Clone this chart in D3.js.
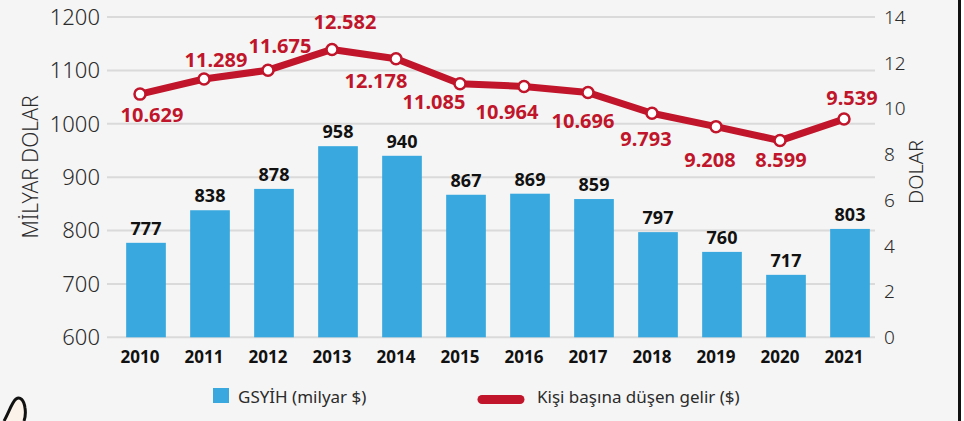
<!DOCTYPE html>
<html>
<head>
<meta charset="utf-8">
<script src="https://cdn.jsdelivr.net/npm/d3@7"></script>
<style>
    html, body { margin: 0; padding: 0; background: #f5f5f5; }
    svg { display: block; font-family: 'Noto Sans', sans-serif; }
</style>
</head>
<body>
<div id="chart"></div>
<script>
// data
const years = [2010, 2011, 2012, 2013, 2014, 2015, 2016, 2017, 2018, 2019, 2020, 2021];
const gdp = [777, 838, 878, 958, 940, 867, 869, 859, 797, 760, 717, 803];          // milyar $
const income = [10629, 11289, 11675, 12582, 12178, 11085, 10964, 10696, 9793, 9208, 8599, 9539]; // $
const leftTicks = [600, 700, 800, 900, 1000, 1100, 1200];
const rightTicks = [0, 2, 4, 6, 8, 10, 12, 14];   // bin dolar
const legendLabels = ['GSYİH (milyar $)', 'Kişi başına düşen gelir ($)'];

// label nudges for the red values (dx, dy from the point)
const labelNudge = [[12, 28], [12, -12], [12, -17], [13, -20], [-20, 29], [-26, 25],
                    [-17, 33], [-5, 35], [-6, 33], [-6, 40], [1, 26], [8, -14]];

const width = 964, height = 421;
const plotTop = 17, plotBottom = 337.3;
const gridLeft = 107, gridRight = 875;

const blue = '#38a8df';
const red = '#c0152a';

const svg = d3.select('#chart')
    .append('svg')
    .attr('width', width)
    .attr('height', height);

svg.append('rect')
    .attr('width', width)
    .attr('height', height)
    .attr('fill', '#f5f5f5');

const yLeft = d3.scaleLinear().domain([600, 1200]).range([plotBottom, plotTop]);
const yRight = d3.scaleLinear().domain([0, 14000]).range([plotBottom, plotTop]);

const xBar = d3.scaleBand()
    .domain(years)
    .range([114, 882])
    .paddingInner(0.38)
    .paddingOuter(0.19);

const xPt = d3.scalePoint()
    .domain(years)
    .range([140, 844]);

const tr = d3.formatLocale({ decimal: ',', thousands: '.', grouping: [3], currency: ['', '$'] });
const fmt = tr.format(',d');

// gridlines
svg.append('g')
    .selectAll('line')
    .data(leftTicks)
    .join('line')
    .attr('x1', gridLeft)
    .attr('x2', gridRight)
    .attr('y1', d => yLeft(d))
    .attr('y2', d => yLeft(d))
    .attr('stroke', '#dadada')
    .attr('stroke-width', 2);

// left axis labels
svg.append('g')
    .selectAll('text')
    .data(leftTicks)
    .join('text')
    .attr('x', 100)
    .attr('y', d => yLeft(d))
    .attr('dy', '0.36em')
    .attr('text-anchor', 'end')
    .attr('font-size', '22px')
    .attr('font-weight', 300)
    .attr('fill', '#2b2b2b')
    .text(d => d);

// right axis labels
svg.append('g')
    .selectAll('text')
    .data(rightTicks)
    .join('text')
    .attr('x', 884)
    .attr('y', d => yRight(d * 1000))
    .attr('dy', '0.36em')
    .attr('text-anchor', 'start')
    .attr('font-size', '19px')
    .attr('font-weight', 300)
    .attr('fill', '#2b2b2b')
    .text(d => d);

// axis titles
svg.append('text')
    .attr('transform', 'translate(38, 167) rotate(-90)')
    .attr('text-anchor', 'middle')
    .attr('font-size', '21px')
    .attr('font-weight', 300)
    .attr('fill', '#2b2b2b')
    .text('MİLYAR DOLAR');

svg.append('text')
    .attr('transform', 'translate(923, 172) rotate(-90)')
    .attr('text-anchor', 'middle')
    .attr('font-size', '20px')
    .attr('font-weight', 300)
    .attr('fill', '#2b2b2b')
    .text('DOLAR');

// bars
const bars = years.map((y, i) => ({ year: y, value: gdp[i] }));

svg.append('g')
    .selectAll('rect')
    .data(bars)
    .join('rect')
    .attr('x', d => xBar(d.year))
    .attr('y', d => yLeft(d.value))
    .attr('width', xBar.bandwidth())
    .attr('height', d => yLeft(600) - yLeft(d.value))
    .attr('fill', blue);

svg.append('g')
    .selectAll('text')
    .data(bars)
    .join('text')
    .attr('x', d => xBar(d.year) + xBar.bandwidth() / 2)
    .attr('y', d => yLeft(d.value) - 8)
    .attr('text-anchor', 'middle')
    .attr('font-size', '18px')
    .attr('font-weight', 700)
    .attr('fill', '#111')
    .text(d => d.value);

// year labels
svg.append('g')
    .selectAll('text')
    .data(years)
    .join('text')
    .attr('x', d => xPt(d))
    .attr('y', 363)
    .attr('text-anchor', 'middle')
    .attr('font-size', '17px')
    .attr('font-weight', 700)
    .attr('fill', '#111')
    .text(d => d);

// income line
const pts = years.map((y, i) => ({ year: y, value: income[i], nudge: labelNudge[i] }));

const line = d3.line()
    .x(d => xPt(d.year))
    .y(d => yRight(d.value));

svg.append('path')
    .datum(pts)
    .attr('d', line)
    .attr('fill', 'none')
    .attr('stroke', red)
    .attr('stroke-width', 7)
    .attr('stroke-linejoin', 'round');

svg.append('g')
    .selectAll('circle')
    .data(pts)
    .join('circle')
    .attr('cx', d => xPt(d.year))
    .attr('cy', d => yRight(d.value))
    .attr('r', 5.5)
    .attr('fill', '#fff')
    .attr('stroke', red)
    .attr('stroke-width', 2.5);

svg.append('g')
    .selectAll('text')
    .data(pts)
    .join('text')
    .attr('x', d => xPt(d.year) + d.nudge[0])
    .attr('y', d => yRight(d.value) + d.nudge[1])
    .attr('text-anchor', 'middle')
    .attr('font-size', '20px')
    .attr('font-weight', 700)
    .attr('fill', red)
    .text(d => fmt(d.value));

// legend
const legend = svg.append('g');

legend.append('rect')
    .attr('x', 213)
    .attr('y', 388)
    .attr('width', 16)
    .attr('height', 15)
    .attr('fill', blue);

legend.append('text')
    .attr('x', 238)
    .attr('y', 403)
    .attr('font-size', '17px')
    .attr('fill', '#2b2b2b')
    .text(legendLabels[0]);

legend.append('line')
    .attr('x1', 482)
    .attr('x2', 520)
    .attr('y1', 399.5)
    .attr('y2', 399.5)
    .attr('stroke', red)
    .attr('stroke-width', 9)
    .attr('stroke-linecap', 'round');

legend.append('text')
    .attr('x', 537)
    .attr('y', 403)
    .attr('font-size', '17px')
    .attr('fill', '#2b2b2b')
    .text(legendLabels[1]);

// frame edge on the right and the cropped logo bottom-left
svg.append('rect')
    .attr('x', 958)
    .attr('y', 0)
    .attr('width', 3)
    .attr('height', height)
    .attr('fill', '#111');

svg.append('rect')
    .attr('x', 961)
    .attr('y', 0)
    .attr('width', 3)
    .attr('height', height)
    .attr('fill', '#fff');

svg.append('path')
    .attr('d', 'M4,421 C9,412 12,402 16,399 C20,396 24,400 25,408 C26,414 25,418 24,421 Z')
    .attr('fill', '#fbf3ea');

svg.append('path')
    .attr('d', 'M4,421 C9,412 12,402 16,399 C20,396 24,400 25,408 C26,414 25,418 24,421')
    .attr('fill', 'none')
    .attr('stroke', '#111')
    .attr('stroke-width', 3);
</script>
</body>
</html>
